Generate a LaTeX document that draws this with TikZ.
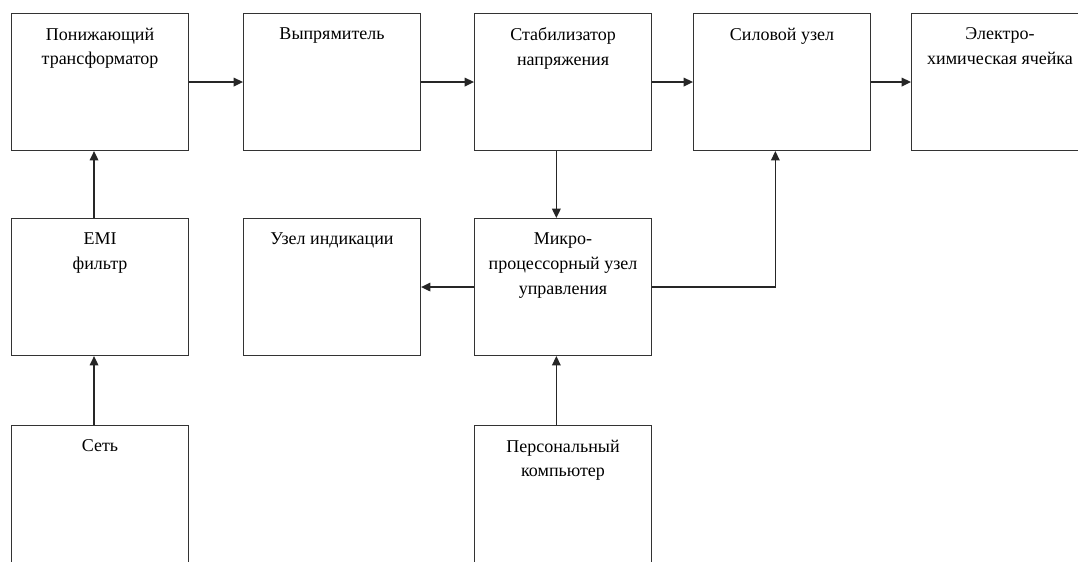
\documentclass[tikz,border=0pt]{standalone}
\usepackage{fontspec}
\setmainfont{Liberation Serif}
\usetikzlibrary{positioning,arrows.meta}
\tikzset{
blk/.style={draw=black!80,line width=0.8pt,minimum width=132.75pt,minimum height=102.75pt,inner sep=0pt,anchor=north west},
blktext/.style={inner sep=0pt,align=center,font=\fontsize{13.5}{18.5}\selectfont},
link/.style={-{Triangle[length=7pt,width=6.5pt]},line width=1pt,black!85}
}
\begin{document}
\begin{tikzpicture}[x=0.75pt,y=-0.75pt]
\clip (0,0) rectangle (1078,561);
% blocks, top row
\node[blk] (trans) at (11,13) {};
\node[blk] (rect) at (243,13) {};
\node[blk] (stab) at (474,13) {};
\node[blk] (power) at (693,13) {};
\node[blk] (cell) at (911,13) {};
% middle and bottom rows
\node[blk] (emi) at (11,218) {};
\node[blk] (ind) at (243,218) {};
\node[blk] (mcu) at (474,218) {};
\node[blk] (mains) at (11,425) {};
\node[blk] (pc) at (474,425) {};
% captions
\node[blktext,below=11pt of trans.north] (transT) {Понижающий\\трансформатор};
\node[blktext,below=11pt of rect.north] (rectT) {Выпрямитель};
\node[blktext,below=11pt of stab.north] (stabT) {Стабилизатор\\напряжения};
\node[blktext,below=11pt of power.north] (powerT) {Силовой узел};
\node[blktext,below=11pt of cell.north] (cellT) {Электро-\\химическая ячейка};
\node[blktext,below=11pt of emi.north] (emiT) {EMI\\фильтр};
\node[blktext,below=11pt of ind.north] (indT) {Узел индикации};
\node[blktext,below=11pt of mcu.north] (mcuT) {Микро-\\процессорный узел\\управления};
\node[blktext,below=11pt of mains.north] (mainsT) {Сеть};
\node[blktext,below=11pt of pc.north] (pcT) {Персональный\\компьютер};
% connections
\draw[link] (trans) -- (rect);
\draw[link] (rect) -- (stab);
\draw[link] (stab) -- (power);
\draw[link] (power) -- (cell);
\draw[link] ([xshift=-4.5pt]mains.north) -- ([xshift=-4.5pt]emi.south);
\draw[link] ([xshift=-4.5pt]emi.north) -- ([xshift=-4.5pt]trans.south);
\draw[link] ([xshift=-5pt]stab.south) -- ([xshift=-5pt]mcu.north);
\draw[link] ([xshift=-5pt]pc.north) -- ([xshift=-5pt]mcu.south);
\draw[link] (mcu) -- (ind);
\draw[link] (mcu.east) -| ([xshift=-5pt]power.south);
\end{tikzpicture}
\end{document}
